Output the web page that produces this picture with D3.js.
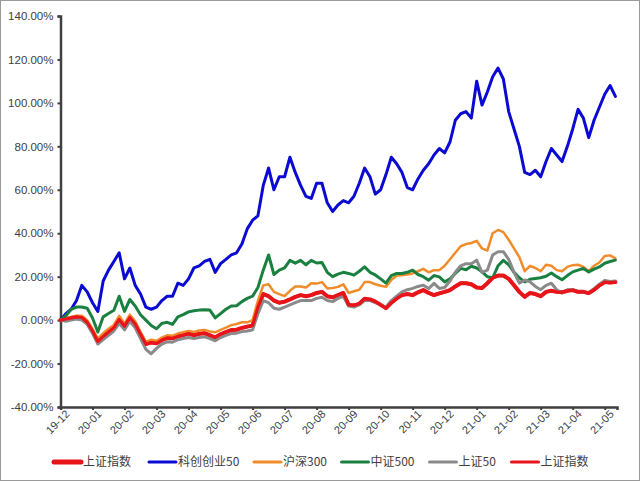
<!DOCTYPE html>
<html><head><meta charset="utf-8">
<script src="https://cdn.jsdelivr.net/npm/d3@7"></script>
<style>
html,body{margin:0;padding:0;background:#fff;}
svg{display:block;}
</style></head>
<body>
<svg id="chart" width="640" height="481"></svg>
<script>
// Month tick labels (category axis, 6 points per month)
const monthLabels = ["19-12","20-01","20-02","20-03","20-04","20-05","20-06","20-07","20-08","20-09","20-10","20-11","20-12","21-01","21-02","21-03","21-04","21-05"];
const pointsPerMonth = 6;
const yTicks = [-40,-20,0,20,40,60,80,100,120,140];

// Series values (cumulative return, %)
const shIndex = [0,0.5,1,1.5,1.2,-1,-5,-9.8,-7.5,-5.5,-3.5,0.3,-2.8,1.2,-1.8,-6.5,-11,-10.3,-10.7,-9.2,-8.2,-8.4,-7.5,-6.9,-6.2,-7,-6.3,-6,-7,-8,-6.5,-5.5,-4.6,-4.4,-3.6,-3,-2.5,6,12,11,9,8,8.5,9.5,10.7,11.5,11,11.5,12.5,13,11,10.5,11.5,12.5,7,6.8,7.5,9.8,9.5,8.5,7,5.5,8,10,11.5,12,11.5,12.8,13.8,12.5,11.5,12.3,13,13.8,15.5,17,17,16.5,15,14.8,17,19.5,20.5,20.5,19,16,13,10.7,12.5,12,11,13,13.5,13,12.8,13.5,13.8,13,13,12.4,14,16,17.5,17.3,17.5];
const kc50 = [0,3,5,9,16,13,8,4,18,23,27,31,19,24,16,12,6,5,6,9,11,11,17,16,19,24,25,27,28,22,26,28,30,31,35,42,46,48,62,70,60,66,66,75,68,62,57,56,63,63,54,50,53,55,54,57,63,70,66,58,60,67,75,72,68,61,60,65,69,72,76,79,77,82,92,95,96,93,110,99,105,112,116,111,96,88,80,68,67,69,66,73,79,76,73,80,88,97,93,84,92,98,104,108,103];
const hs300 = [0,1,1.5,2,2,0,-4,-8.5,-6,-4,-2.2,2,-1.5,2.5,-0.5,-5.5,-10,-9,-9.5,-8,-7,-7.2,-6.2,-5.6,-5,-5.5,-4.8,-4.5,-5.2,-5.6,-4.5,-3.5,-2.3,-1.8,-1,-1,0,9,16,16.5,13,12,11,13.5,15.5,15.5,15,17,16.8,17.5,14.6,14.8,15.3,16.5,12.5,13.3,14,17.5,17.5,16.5,15.8,15.3,18.5,20.5,20.7,21,21.5,22.5,23.6,22,23,23,25,28,31,34,35,35.5,36.5,33,32,40,41.5,40.5,37,33,29,22.5,25,24,22.5,25.5,25,23,22.5,24.5,25.3,25.5,24.5,22.5,25,26.5,29.5,29.8,28.4];
const zz500 = [0,2,5,6,6,5.5,1,-5.5,1.5,3,4.5,11,4,9.5,6.5,2.5,0,-2.5,-4,-1.5,-1,-2,1.5,2.5,3.8,4.3,4.6,4.8,4.6,1,3,5,6.5,6.6,8.5,10,11,15,23,30,21,23,24,27.5,26.2,27.5,25.5,27.5,26.3,26.5,22,20,21.2,22,21.5,20.7,22.5,24.5,22,20.8,19,17,20.5,21.5,21.5,22,23,21,20,18.4,20.5,19.9,17.6,19,21.5,23.8,23.2,24.8,24,22.2,20,19.5,25,27.5,25.5,22,19.5,17.6,18.8,19.2,19.5,20.2,21.7,20,18.6,20.5,22.2,23,23.8,22.2,23.5,24.5,26.2,27,27.6];
const sz50 = [0,-0.5,0,0.5,0,-2,-6,-11,-9,-7,-5,-1.5,-4.5,-0.5,-3.5,-8.5,-13.5,-15.5,-13,-11,-10,-10.2,-9,-8.5,-8,-8.5,-8,-7.7,-8.5,-9.5,-8,-7,-6.2,-6,-5.3,-5,-4.5,3,9,8,5.5,5,6,7,8,9,9,9,10,10.5,9,8.5,10,11,6.5,6,7,9,9,8,7,6,9,11,13,14,14.6,15.5,16.1,14.5,16.9,14.6,15,18,22,25,26,26,27.6,22,23,30,31.5,31.5,28,22,17,18.5,17.6,15.5,14,16,17,14,12.5,14,14,13.2,12.8,12.6,14.5,16.5,18.3,17.8,18];

const seriesNames = ["上证指数","科创创业50","沪深300","中证500","上证50","上证指数"];
const seriesData = [shIndex, kc50, hs300, zz500, sz50, shIndex];
const seriesColors = ["#e8141a","#0a0ad2","#f08c2a","#1a8040","#8a8a8a","#e8141a"];
const seriesWidths = [4,3,2.5,3,3,3.2];

const svg = d3.select("#chart");
svg.append("rect").attr("x",0.5).attr("y",0.5).attr("width",639).attr("height",480)
  .attr("fill","#fff").attr("stroke","#9a9a9a").attr("stroke-width",1);

const n = kc50.length;
const x = d3.scaleLinear().domain([0, 104.3]).range([60.5, 617]);
const y = d3.scaleLinear().domain([-40, 140]).range([407, 16]);

// Y axis
const yAxis = d3.axisLeft(y).tickValues(yTicks).tickSize(3).tickPadding(4)
  .tickFormat(d => d.toFixed(2) + "%");
const gy = svg.append("g").attr("transform", `translate(${x.range()[0]},0)`).call(yAxis);
gy.select(".domain").attr("stroke","#404040").attr("stroke-width",2.5);
gy.selectAll(".tick line").attr("stroke","#404040").attr("stroke-width",2);
gy.selectAll(".tick text").attr("fill","#404040").style("font-family","'Liberation Sans',Arial,sans-serif").style("font-size","11.5px");

// X axis
const xTickVals = monthLabels.map((m,i) => i * pointsPerMonth);
const xAxis = d3.axisBottom(x).tickValues(xTickVals).tickSize(3).tickPadding(3)
  .tickFormat((d,i) => monthLabels[i]);
const gx = svg.append("g").attr("transform", `translate(0,${y.range()[0]})`).call(xAxis);
gx.select(".domain").attr("stroke","#404040").attr("stroke-width",2.5);
gx.selectAll(".tick line").attr("stroke","#404040").attr("stroke-width",2);
gx.selectAll(".tick text")
  .attr("fill","#404040")
  .style("font-family","'Liberation Sans',Arial,sans-serif").style("font-size","11px")
  .attr("text-anchor","end")
  .attr("dx","0.1em").attr("dy","0.55em")
  .attr("transform","rotate(-45)");

// Lines
const line = d3.line().x((d,i) => x(i)).y(d => y(d));
const gLines = svg.append("g");
seriesData.forEach((data, k) => {
  gLines.append("path").datum(data)
    .attr("d", line)
    .attr("fill","none")
    .attr("stroke", seriesColors[k])
    .attr("stroke-width", seriesWidths[k])
    .attr("stroke-linejoin","round")
    .attr("stroke-linecap","round");
});

// Legend
const legendX = [54, 149, 254, 341.5, 429.5, 511.5];
const legendY = 462;
const lg = svg.append("g");
seriesNames.forEach((name, k) => {
  const g = lg.append("g").attr("transform", `translate(${legendX[k]},${legendY})`);
  g.append("line").attr("x1",0).attr("x2",27).attr("y1",0).attr("y2",0)
    .attr("stroke", seriesColors[k]).attr("stroke-width", k === 0 ? 5 : 3)
    .attr("stroke-linecap","round");
  g.append("text").attr("x",29).attr("y",0).attr("dy","0.35em")
    .attr("fill","#404040")
    .style("font-family","'Noto Sans CJK SC','Noto Sans',sans-serif").style("font-size","12px")
    .text(name);
});
</script>
</body></html>
